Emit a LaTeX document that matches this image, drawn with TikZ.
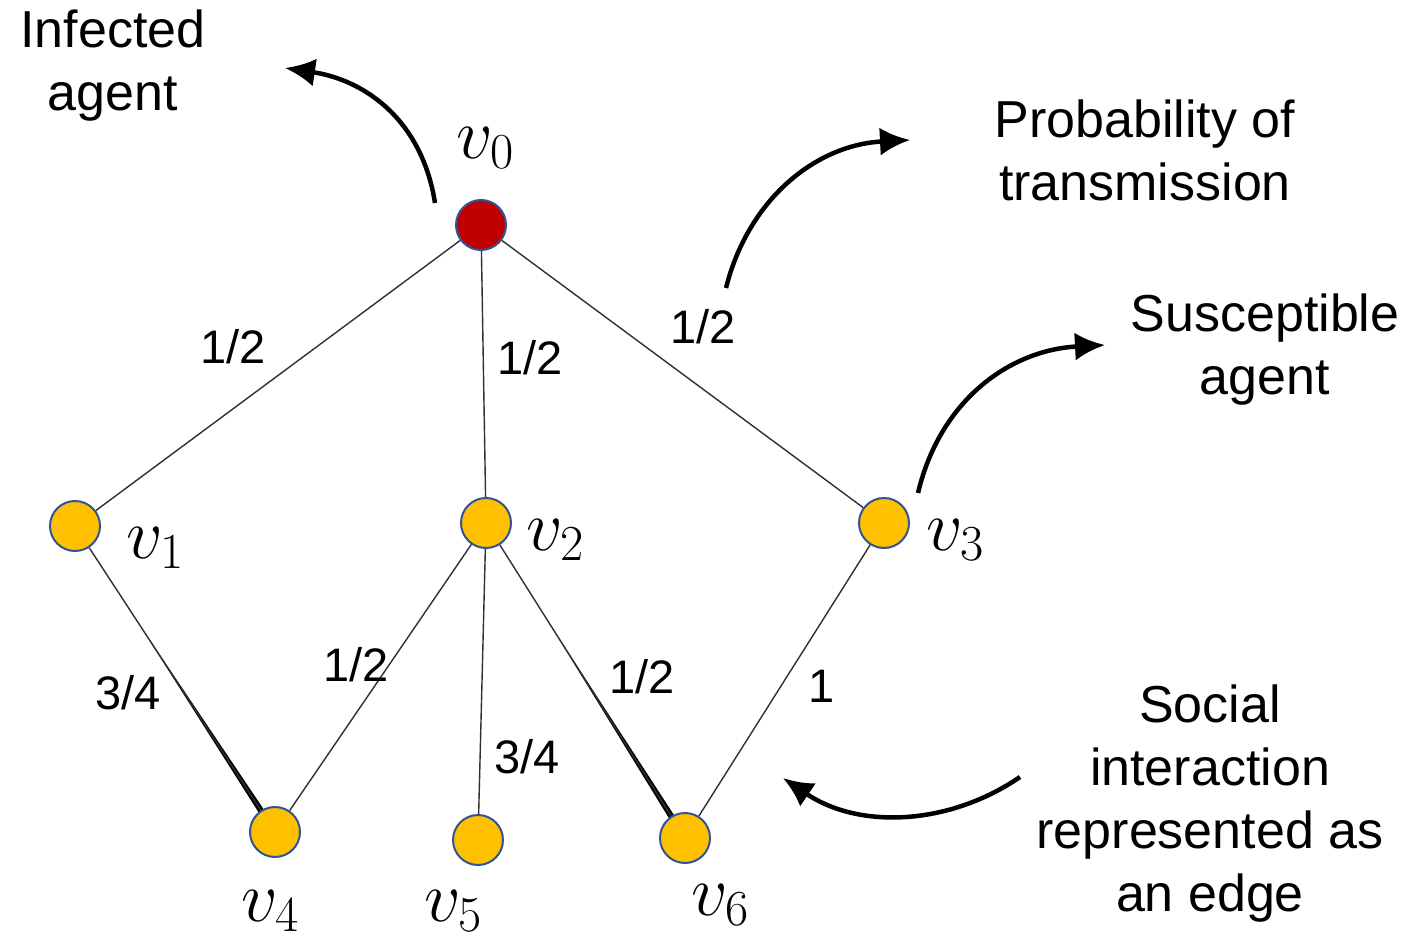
\RequirePackage{fix-cm}
\documentclass[tikz,border=0pt]{standalone}
\usepackage{fontspec}
\setmainfont{Liberation Sans}
\usetikzlibrary{arrows.meta,calc}
\definecolor{nodered}{HTML}{C00000}
\definecolor{nodeyellow}{HTML}{FFC000}
\definecolor{nodeborder}{HTML}{2F5597}
\definecolor{edgegray}{HTML}{303030}
\tikzset{
  agent/.style={circle, minimum size=50pt, inner sep=0pt, draw=nodeborder, line width=2pt},
  infected/.style={agent, fill=nodered},
  susceptible/.style={agent, fill=nodeyellow},
  edgeline/.style={draw=edgegray, line width=1.4pt},
  taper/.style={fill=black},
  elabel/.style={font=\fontsize{47}{56}\selectfont, inner sep=0pt},
  vlabel/.style={font=\fontsize{72}{80}\selectfont, inner sep=0pt},
  note/.style={font=\fontsize{52}{63}\selectfont, align=center, inner sep=0pt},
  callout/.style={line width=4.5pt, -{Latex[length=30pt,width=28pt]}}
}
\begin{document}
\begin{tikzpicture}[x=1pt,y=-1pt]
\useasboundingbox (0,0) rectangle (1417,941);
% positions
\coordinate (p0) at (481,225);
\coordinate (p1) at (75,526);
\coordinate (p2) at (486,523);
\coordinate (p3) at (884,523);
\coordinate (p4) at (275,832);
\coordinate (p5) at (478,840);
\coordinate (p6) at (685,838);
% tapered thick parts
\coordinate (ta) at ($(p1)!0.3!(p4)$);
\coordinate (tb) at ($(p4)!22pt!(p1)$);
\fill[taper] (ta) -- ($(tb)!3pt!90:(ta)$) -- ($(tb)!3pt!-90:(ta)$) -- cycle;
\coordinate (tc) at ($(p2)!0.3!(p6)$);
\coordinate (td) at ($(p6)!22pt!(p2)$);
\fill[taper] (tc) -- ($(td)!3pt!90:(tc)$) -- ($(td)!3pt!-90:(tc)$) -- cycle;
% agents
\node[infected] (v0) at (p0) {};
\node[susceptible] (v1) at (p1) {};
\node[susceptible] (v2) at (p2) {};
\node[susceptible] (v3) at (p3) {};
\node[susceptible] (v4) at (p4) {};
\node[susceptible] (v5) at (p5) {};
\node[susceptible] (v6) at (p6) {};
\path[edgeline] (v0) -- (v1);
\path[edgeline] (v0) -- (v2);
\path[edgeline] (v0) -- (v3);
\path[edgeline] (v1) -- (v4);
\path[edgeline] (v2) -- (v4);
\path[edgeline] (v2) -- (v5);
\path[edgeline] (v2) -- (v6);
\path[edgeline] (v3) -- (v6);
% node labels
\node[vlabel] (l0) at (485,148) {$v_0$};
\node[vlabel] (l1) at (155,548) {$v_1$};
\node[vlabel] (l2) at (555,540) {$v_2$};
\node[vlabel] (l3) at (955,540) {$v_3$};
\node[vlabel] (l4) at (270,911) {$v_4$};
\node[vlabel] (l5) at (453,911) {$v_5$};
\node[vlabel] (l6) at (720,905) {$v_6$};
% edge labels
\node[elabel] (e01) at (233,347) {1/2};
\node[elabel] (e02) at (530,358) {1/2};
\node[elabel] (e03) at (703,327) {1/2};
\node[elabel] (e14) at (128,693) {3/4};
\node[elabel] (e24) at (356,665) {1/2};
\node[elabel] (e25) at (527,757) {3/4};
\node[elabel] (e26) at (642,677) {1/2};
\node[elabel] (e36) at (822,686) {1};
% notes
\node[note] (infected) at (113,66) {Infected\\agent};
\node[note] (prob) at (1145,150) {Probability of\\transmission};
\node[note] (susc) at (1265,350) {Susceptible\\agent};
\node[note] (social) at (1210,804) {Social\\interaction\\represented as\\an edge};
% callout arrows
\coordinate (a1s) at (435,203);
\coordinate (a1e) at (285,68);
\coordinate (a2s) at (726,288);
\coordinate (a2e) at (910,140);
\coordinate (a3s) at (918,493);
\coordinate (a3e) at (1105,345);
\coordinate (a4s) at (1020,777);
\coordinate (a4e) at (783,778);
\draw[callout] (a1s) .. controls (422,120) and (365,80) .. (a1e);
\draw[callout] (a2s) .. controls (748,200) and (815,145) .. (a2e);
\draw[callout] (a3s) .. controls (940,400) and (1010,350) .. (a3e);
\draw[callout] (a4s) .. controls (950,825) and (860,830) .. (a4e);
\end{tikzpicture}
\end{document}
